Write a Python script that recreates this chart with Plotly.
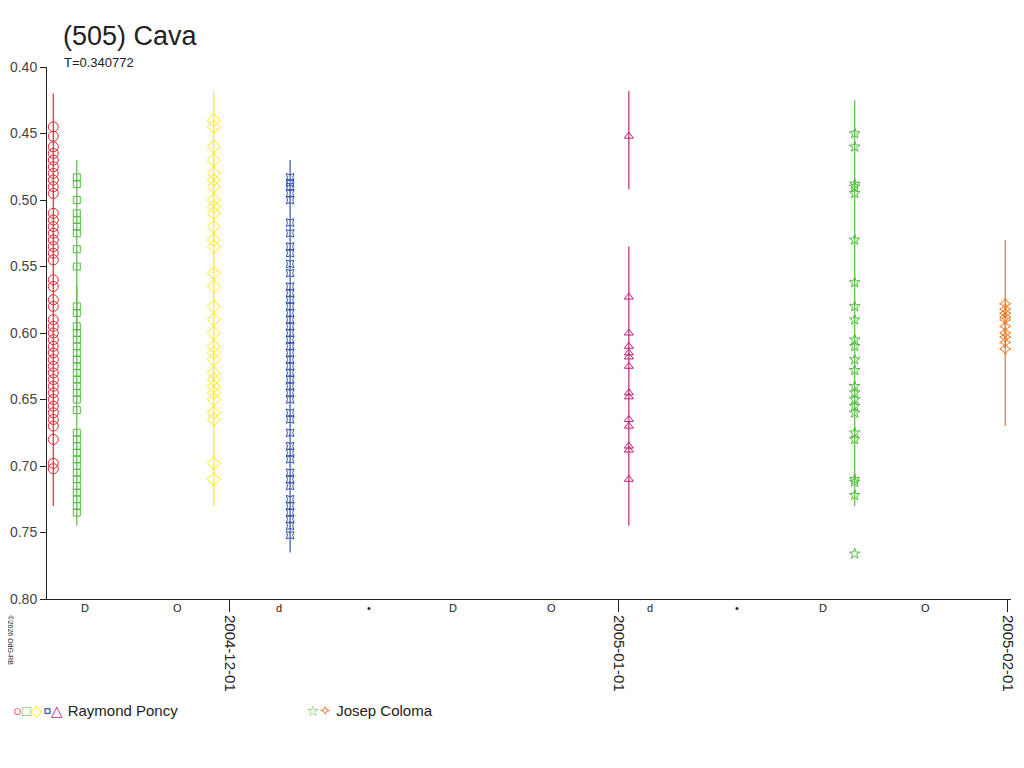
import plotly.graph_objects as go

# observation columns: date, marker, colour, magnitudes, error-bar extent
obs = [
    dict(date='2004-11-16 22:00', sym='circle-open', col='#ee2233', size=10,
         y=[0.445, 0.452, 0.46, 0.465, 0.47, 0.475, 0.48, 0.485, 0.49, 0.495, 0.51, 0.515, 0.52, 0.525, 0.53, 0.535,
            0.54, 0.545, 0.56, 0.565, 0.575, 0.58, 0.59, 0.595, 0.6, 0.605, 0.61, 0.615, 0.62, 0.625, 0.63, 0.635,
            0.64, 0.645, 0.65, 0.655, 0.66, 0.665, 0.67, 0.68, 0.698, 0.702],
         lines=[(0.42, 0.73)]),
    dict(date='2004-11-18 19:00', sym='square-open', col='#55bb44', size=7,
         y=[0.483, 0.488, 0.50, 0.51, 0.515, 0.52, 0.525, 0.537, 0.55, 0.58, 0.585, 0.595, 0.6, 0.605, 0.61, 0.615,
            0.62, 0.625, 0.63, 0.635, 0.64, 0.645, 0.65, 0.658, 0.675, 0.68, 0.685, 0.69, 0.695, 0.70, 0.705,
            0.71, 0.715, 0.72, 0.725, 0.73, 0.735],
         lines=[(0.47, 0.60), (0.565, 0.745)]),
    dict(date='2004-11-29 17:00', sym='diamond-open', col='#ffee00', size=10,
         y=[0.44, 0.445, 0.46, 0.47, 0.48, 0.485, 0.49, 0.50, 0.505, 0.51, 0.52, 0.53, 0.535, 0.555, 0.565, 0.58,
            0.59, 0.6, 0.61, 0.615, 0.62, 0.63, 0.635, 0.64, 0.645, 0.65, 0.66, 0.665, 0.698, 0.71],
         lines=[(0.418, 0.73)]),
    dict(date='2004-12-05 19:00', sym='star-square-open', col='#3355aa', size=7,
         y=[0.483, 0.487, 0.49, 0.495, 0.50, 0.517, 0.525, 0.535, 0.54, 0.548, 0.555, 0.565, 0.57, 0.575, 0.58,
            0.585, 0.59, 0.595, 0.60, 0.605, 0.61, 0.615, 0.62, 0.625, 0.63, 0.635, 0.64, 0.645, 0.65, 0.66, 0.665,
            0.675, 0.685, 0.69, 0.695, 0.705, 0.71, 0.715, 0.725, 0.73, 0.735, 0.74, 0.745, 0.752],
         lines=[(0.47, 0.765)]),
    dict(date='2005-01-01 19:00', sym='triangle-up-open', col='#bb2277', size=8,
         y=[0.452, 0.573, 0.60, 0.61, 0.615, 0.618, 0.625, 0.645, 0.648, 0.665, 0.67, 0.685, 0.688, 0.71],
         lines=[(0.418, 0.492), (0.535, 0.745)]),
    dict(date='2005-01-19 19:00', sym='star-open', col='#55bb44', size=8,
         y=[0.45, 0.46, 0.488, 0.49, 0.495, 0.53, 0.562, 0.58, 0.59, 0.605, 0.61, 0.62, 0.628, 0.64, 0.645, 0.65,
            0.655, 0.66, 0.675, 0.68, 0.71, 0.712, 0.722, 0.766],
         lines=[(0.425, 0.73)]),
    dict(date='2005-01-31 19:00', sym='star-diamond-open', col='#ee7722', size=8,
         y=[0.578, 0.582, 0.585, 0.588, 0.59, 0.595, 0.60, 0.603, 0.607, 0.612],
         lines=[(0.53, 0.67)]),
]

fig = go.Figure()
for o in obs:
    for y0, y1 in o['lines']:
        fig.add_trace(go.Scatter(x=[o['date'], o['date']], y=[y0, y1], mode='lines',
                                 line=dict(color=o['col'], width=1.2), showlegend=False, hoverinfo='skip'))
    fig.add_trace(go.Scatter(x=[o['date']] * len(o['y']), y=o['y'], mode='markers',
                             marker=dict(symbol=o['sym'], color=o['col'], size=o['size'], line=dict(width=1)),
                             showlegend=False))

# moon phases along the bottom
moons = [('2004-11-19 10:00', 'D'), ('2004-11-26 19:00', 'O'), ('2004-12-04 22:00', 'd'),
         ('2004-12-12 02:00', '•'), ('2004-12-18 19:00', 'D'), ('2004-12-26 15:00', 'O'),
         ('2005-01-03 12:00', 'd'), ('2005-01-10 10:00', '•'), ('2005-01-17 07:00', 'D'),
         ('2005-01-25 10:00', 'O')]
for d, s in moons:
    fig.add_annotation(x=d, y=0.80, text=s, showarrow=False, yshift=-9,
                       font=dict(size=11, color='#222'))

# the page adds ~7px of body margin, so margins are offset
L, R, T, B = 39, 21, 59, 177
pw, ph = 1024 - L - R, 768 - T - B


def px(x, y):
    return (x - 46) / pw, (598 - y) / ph


def note(x, y, text, size, **kw):
    ax, ay = px(x, y)
    fig.add_annotation(x=ax, y=ay, xref='paper', yref='paper', text=text, showarrow=False,
                       xanchor='left', font=dict(size=size, color='#222'), **kw)


note(60, 35, '(505) Cava', 27, yanchor='middle')
note(61, 62, 'T=0.340772', 13, yanchor='middle')
note(4, 612, '©2026 OdG-RB', 7, textangle=90, yanchor='top')
note(10, 709, '<span style="color:#ee2233">○</span><span style="color:#55bb44">□</span>'
              '<span style="color:#ffee00">◇</span><span style="color:#3355aa">¤</span>'
              '<span style="color:#bb2277">△</span> Raymond Poncy', 15, yanchor='middle')
note(303, 709, '<span style="color:#55bb44">☆</span><span style="color:#ee7722">✧</span> Josep Coloma',
     15, yanchor='middle')

fig.update_layout(
    width=1024, height=768, plot_bgcolor='white', paper_bgcolor='white',
    margin=dict(l=L, r=R, t=T, b=B),
    font=dict(family='Liberation Sans, Arial', color='#222'),
    xaxis=dict(type='date', range=['2004-11-16 10:00', '2005-02-01 06:00'],
               tickvals=['2004-12-01', '2005-01-01', '2005-02-01'],
               ticktext=['2004-12-01', '2005-01-01', '2005-02-01'],
               tickangle=90, ticks='outside', ticklen=12, tickcolor='#222', automargin=False,
               showgrid=False, zeroline=False, showline=True, linecolor='#222',
               tickfont=dict(size=15)),
    yaxis=dict(range=[0.80, 0.40], tickvals=[0.40, 0.45, 0.50, 0.55, 0.60, 0.65, 0.70, 0.75, 0.80],
               tickformat='.2f', ticks='outside', ticklen=6, tickcolor='#222', automargin=False,
               showgrid=False, zeroline=False, showline=True, linecolor='#222',
               tickfont=dict(size=14, color='#444')),
)

fig.write_html("out.html")
